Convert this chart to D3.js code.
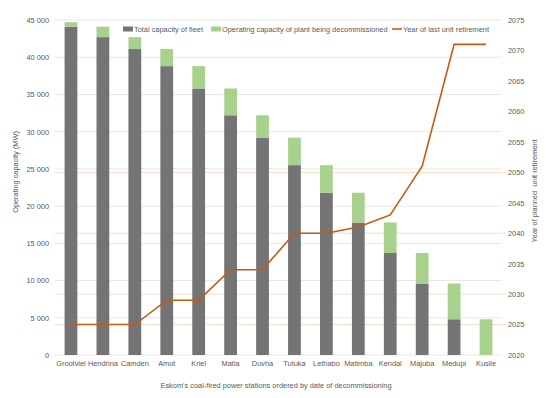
<!DOCTYPE html>
<html>
<head>
<meta charset="utf-8">
<script src="https://cdn.jsdelivr.net/npm/d3@7"></script>
<style>
  body { margin: 0; background: #fff; }
  text { font-family: "Liberation Sans", Arial, sans-serif; fill: #595959; }
</style>
</head>
<body>
<svg id="chart" width="555" height="398"></svg>
<script>
// stations, ordered by date of decommissioning
var stations = ["Grootvlei", "Hendrina", "Camden", "Amot", "Kriel", "Matla", "Duvha",
  "Tutuka", "Lethabo", "Matimba", "Kendal", "Majuba", "Medupi", "Kusile"];
// remaining fleet capacity (MW)
var fleet = [44100, 42700, 41100, 38800, 35800, 32200, 29200, 25500, 21800, 17800, 13700, 9600, 4800, 0];
// capacity of plant being decommissioned (MW)
var decommissioned = [600, 1400, 1600, 2300, 3000, 3600, 3000, 3700, 3700, 4000, 4100, 4100, 4800, 4800];
// year of last unit retirement
var retireYear = [2025, 2025, 2025, 2029, 2029, 2034, 2034, 2040, 2040, 2041, 2043, 2051, 2071, 2071];

var capTicks = [0, 5000, 10000, 15000, 20000, 25000, 30000, 35000, 40000, 45000];
var yearTicks = [2020, 2025, 2030, 2035, 2040, 2045, 2050, 2055, 2060, 2065, 2070, 2075];
var faintYears = [2025, 2030, 2040, 2050];

var svg = d3.select("#chart"),
    margin = { top: 20, right: 53, bottom: 43, left: 55 },
    width = +svg.attr("width") - margin.left - margin.right,
    height = +svg.attr("height") - margin.top - margin.bottom;

var x = d3.scaleBand().domain(stations).range([0, width]).paddingInner(0.6).paddingOuter(0.3);
var y = d3.scaleLinear().domain([0, 45000]).range([height, 0]);
var y2 = d3.scaleLinear().domain([2020, 2075]).range([height, 0]);

var g = svg.append("g").attr("transform", "translate(" + margin.left + "," + margin.top + ")");

var fmt = function (v) { return d3.format(",")(v).replace(/,/g, " "); };
var fs = "7.4px";

// gridlines
g.append("g").selectAll("line").data(capTicks).enter().append("line")
  .attr("x1", 0).attr("x2", width)
  .attr("y1", function (d) { return y(d); }).attr("y2", function (d) { return y(d); })
  .attr("stroke", "#e8e8e8").attr("stroke-width", 1);

g.append("g").selectAll("line").data(faintYears).enter().append("line")
  .attr("x1", 0).attr("x2", width + 4)
  .attr("y1", function (d) { return y2(d); }).attr("y2", function (d) { return y2(d); })
  .attr("stroke", "#f7dccb").attr("stroke-width", 1);

// bars
g.append("g").selectAll("rect").data(stations).enter().append("rect")
  .attr("x", function (d) { return x(d); })
  .attr("width", x.bandwidth())
  .attr("y", function (d, i) { return y(fleet[i]); })
  .attr("height", function (d, i) { return y(0) - y(fleet[i]); })
  .attr("fill", "#747474");

g.append("g").selectAll("rect").data(stations).enter().append("rect")
  .attr("x", function (d) { return x(d); })
  .attr("width", x.bandwidth())
  .attr("y", function (d, i) { return y(fleet[i] + decommissioned[i]); })
  .attr("height", function (d, i) { return y(fleet[i]) - y(fleet[i] + decommissioned[i]); })
  .attr("fill", "#a9d18e");

// line
var line = d3.line()
  .x(function (d, i) { return x(stations[i]) + x.bandwidth() / 2; })
  .y(function (d) { return y2(d); });
g.append("path").datum(retireYear)
  .attr("d", line).attr("fill", "none")
  .attr("stroke", "#c55a11").attr("stroke-width", 1.6);

// axes
var left = g.append("g").call(d3.axisLeft(y).tickValues(capTicks).tickFormat(fmt).tickSize(0).tickPadding(6));
var right = g.append("g").attr("transform", "translate(" + width + ",0)")
  .call(d3.axisRight(y2).tickValues(yearTicks).tickFormat(d3.format("d")).tickSize(0).tickPadding(6));
var bottom = g.append("g").attr("transform", "translate(0," + height + ")")
  .call(d3.axisBottom(x).tickSize(0).tickPadding(6));
[left, right, bottom].forEach(function (a) {
  a.select(".domain").remove();
  a.selectAll("text").attr("font-size", fs).attr("fill", "#595959")
    .style("font-family", '"Liberation Sans", Arial, sans-serif');
});

// axis titles
svg.append("text").attr("transform", "translate(18,172) rotate(-90)")
  .attr("text-anchor", "middle").attr("font-size", fs).text("Operating capacity (MW)");
svg.append("text").attr("transform", "translate(537,191) rotate(-90)")
  .attr("text-anchor", "middle").attr("font-size", fs).attr("xml:space", "preserve")
  .text("Year of planned  unit retirement");
svg.append("text").attr("x", 276).attr("y", 388)
  .attr("text-anchor", "middle").attr("font-size", fs)
  .text("Eskom's coal-fired power stations ordered by date of decommissioning");

// legend
var legend = svg.append("g").attr("transform", "translate(123,29)");
var items = [
  { label: "Total capacity of fleet", color: "#747474", x: 0, type: "rect" },
  { label: "Operating capacity of plant being decommissioned", color: "#a9d18e", x: 88, type: "rect" },
  { label: "Year of last unit retirement", color: "#c55a11", x: 269, type: "line" }
];
items.forEach(function (it) {
  if (it.type === "rect") {
    legend.append("rect").attr("x", it.x).attr("y", -2.5).attr("width", 10).attr("height", 5).attr("fill", it.color);
  } else {
    legend.append("line").attr("x1", it.x).attr("x2", it.x + 10).attr("y1", 0).attr("y2", 0)
      .attr("stroke", it.color).attr("stroke-width", 1.6);
  }
  legend.append("text").attr("x", it.x + 11).attr("y", 2.7).attr("font-size", fs).text(it.label);
});
</script>
</body>
</html>
